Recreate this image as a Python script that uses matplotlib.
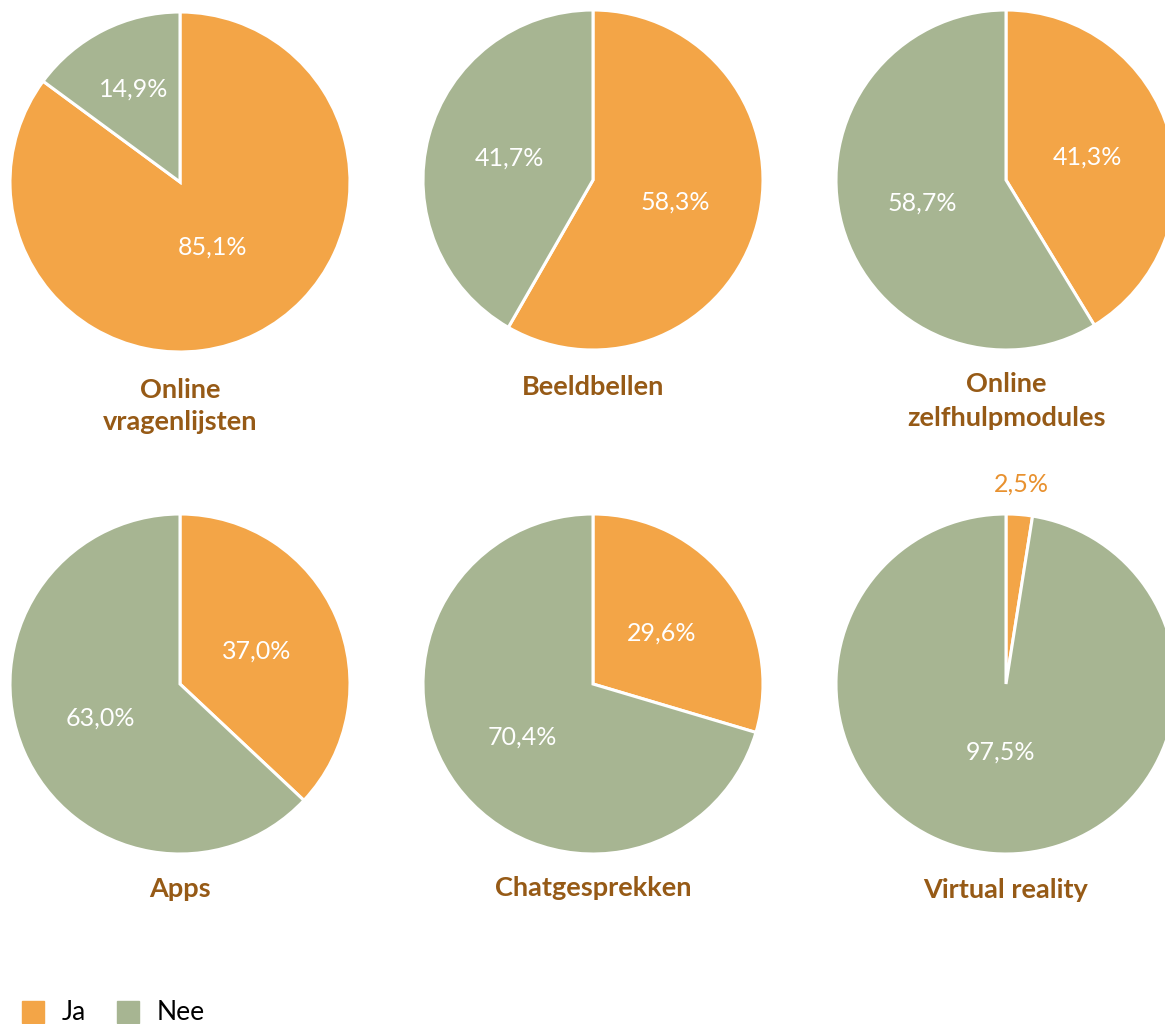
import matplotlib.pyplot as plt
import numpy as np

plt.rcParams['font.family'] = ['Lato', 'DejaVu Sans']

titles = ["Online\nvragenlijsten", "Beeldbellen", "Online\nzelfhulpmodules",
          "Apps", "Chatgesprekken", "Virtual reality"]
ja = [85.1, 58.3, 41.3, 37.0, 29.6, 2.5]
nee = [14.9, 41.7, 58.7, 63.0, 70.4, 97.5]
legend_labels = ["Ja", "Nee"]

orange = '#F3A547'
green = '#A7B592'
brown = '#965A16'

# layout (pixels in a 1165x1024 figure)
W, H = 1165, 1024
centers = [(180, 182), (593, 180), (1006, 180), (180, 684), (593, 684), (1006, 684)]
R = 170
title_y = [406, 387, 401, 889, 888, 890]
label_r = [(0.43, 0.61), (0.5, 0.51), (0.5, 0.51), (0.49, 0.51), (0.5, 0.52), (1.18, 0.4)]

fig = plt.figure(figsize=(W / 100, H / 100), dpi=100)

for i in range(6):
    cx, cy = centers[i]
    ax = fig.add_axes([(cx - R) / W, 1 - (cy + R) / H, 2 * R / W, 2 * R / H])
    vals = [ja[i], nee[i]]
    wedges, _ = ax.pie(vals, colors=[orange, green], startangle=90, counterclock=False,
                       radius=1, wedgeprops=dict(edgecolor='white', linewidth=2.2))
    for j, w in enumerate(wedges):
        ang = np.deg2rad((w.theta1 + w.theta2) / 2)
        r = label_r[i][j]
        col = 'white' if r < 1 else '#E8912F'
        txt = f"{vals[j]:.1f}".replace('.', ',') + '%'
        ax.text(r * np.cos(ang), r * np.sin(ang), txt, ha='center', va='center',
                color=col, fontsize=18)
    ax.set_xlim(-1, 1)
    ax.set_ylim(-1, 1)
    ax.axis('off')
    fig.text(cx / W, 1 - title_y[i] / H, titles[i], ha='center', va='center',
             color=brown, fontsize=19.5, fontweight='bold', linespacing=1.45)

# legend
lx = [22, 117]
for k, lab in enumerate(legend_labels):
    fig.patches.append(plt.Rectangle((lx[k] / W, 1 - 1023 / H), 22 / W, 22 / H,
                                     transform=fig.transFigure, color=[orange, green][k]))
    fig.text((lx[k] + 40) / W, 1 - 1012 / H, lab, ha='left', va='center',
             fontsize=19, color='black')

fig.savefig('out.png', dpi=100)
